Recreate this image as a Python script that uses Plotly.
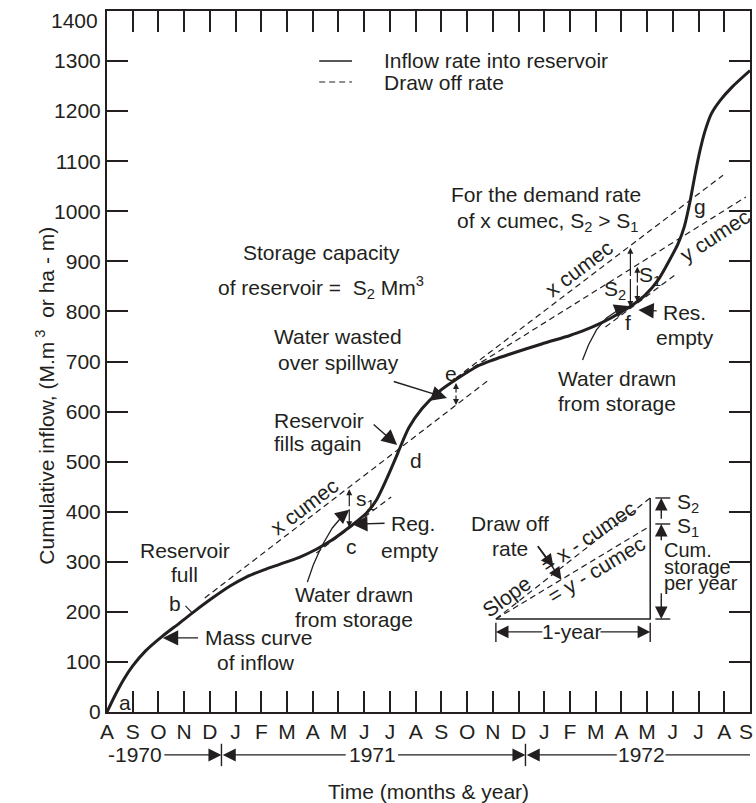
import plotly.graph_objects as go

INK = "#231f20"
FONT = "Liberation Sans, Arial, Helvetica, sans-serif"
FS = 21

# ---------------- data ----------------
month_labels = ["A", "S", "O", "N", "D", "J", "F", "M", "A", "M", "J", "J", "A",
                "S", "O", "N", "D", "J", "F", "M", "A", "M", "J", "J", "A", "S"]
month_index = list(range(len(month_labels)))          # 0 = Aug 1970
y_ticks = list(range(0, 1401, 100))
y_ticktext = [str(v) for v in y_ticks[:-1]] + [""]    # top label drawn separately
x_ticktext = month_labels[:-1] + [""]                 # last label drawn separately

# mass curve of inflow (cumulative inflow, M.m3)
mass_t = [0, 0.3, 0.65, 1.0, 1.5, 2.17, 2.83, 3.4, 4.11, 4.8, 5.43, 6.1, 6.71, 7.48,
          8.14, 8.76, 9.42, 10.08, 10.47, 10.85, 11.24, 11.36, 11.74, 12.25, 12.91,
          13.57, 14.46, 15.0, 15.62, 16.90, 18.0, 18.45, 19.22, 20.0, 20.54, 20.93,
          21.43, 21.94, 22.2, 22.45, 22.67, 22.87, 23.05, 23.25, 23.5, 23.85, 24.3, 25.0]
mass_v = [0, 32, 65, 92, 122, 152, 178, 201, 228, 252, 270, 284, 295, 309,
          325, 344, 369, 397, 423, 463, 509, 524, 568, 606, 640,
          664, 692, 703, 714, 735, 752, 760, 777, 799, 817, 833,
          863, 909, 935, 970, 1020, 1075, 1120, 1160, 1195, 1222, 1248, 1281]

# draw-off (demand) lines
draw_b_t, draw_b_v = [3.80, 14.84], [227.7, 663.0]      # x cumec, tangent at b
draw_c_t, draw_c_v = [8.14, 11.05], [317.6, 429.4]      # x cumec, tangent at c
draw_ex_t, draw_ex_v = [13.57, 23.95], [667.0, 1072.0]  # x cumec from e
draw_ey_t, draw_ey_v = [13.57, 24.84], [667.0, 1028.5]  # y cumec from e
draw_f_t, draw_f_v = [19.38, 22.09], [769.0, 873.0]     # x cumec, tangent at f

# inset triangle (slope = draw-off rate)
tri_t0, tri_t1 = 15.12, 21.12
tri_v0, tri_vx, tri_vy = 185.7, 427.4, 371.5

# curved "water drawn from storage" leaders
lead1_t = [7.79, 8.02, 8.33, 8.76, 9.22]
lead1_v = [259.6, 293.6, 329.5, 367.5, 395.4]
lead2_t = [18.49, 18.72, 19.03, 19.42, 19.88]
lead2_v = [703, 733, 763, 787, 803]

fig = go.Figure()

dash_style = dict(color=INK, width=1.2, dash="6px,4px")

def dline(t, v, style=dash_style):
    fig.add_trace(go.Scatter(x=t, y=v, mode="lines", line=style,
                             hoverinfo="skip", showlegend=False))

dline(draw_b_t, draw_b_v)
dline(draw_c_t, draw_c_v)
dline(draw_ex_t, draw_ex_v)
dline(draw_ey_t, draw_ey_v)
dline(draw_f_t, draw_f_v)
dline([tri_t0, tri_t1], [tri_v0, tri_vx])
dline([tri_t0, tri_t1], [tri_v0, tri_vy])
solid_thin = dict(color=INK, width=1.5)
dline([tri_t0, tri_t1, tri_t1], [tri_v0, tri_v0, tri_vx], solid_thin)
dline(lead1_t, lead1_v, dict(color=INK, width=1.3))
dline(lead2_t, lead2_v, dict(color=INK, width=1.3))

# mass curve
fig.add_trace(go.Scatter(x=mass_t, y=mass_v, mode="lines",
                         line=dict(color=INK, width=3, shape="spline", smoothing=0.7),
                         hoverinfo="skip", showlegend=False))

# small tick mark at b
dline([3.05, 3.35], [212, 196], dict(color=INK, width=1.2))

ann = []

def txt(x, y, s, size=FS, xanchor="center", angle=0, xref="x", yref="y"):
    ann.append(dict(x=x, y=y, xref=xref, yref=yref, text=s, showarrow=False,
                    xanchor=xanchor, yanchor="middle", textangle=angle,
                    font=dict(size=size, color=INK, family=FONT)))

def arrow(x0, y0, x1, y1, head=2, size=2.2, width=1.4, side="end"):
    ann.append(dict(x=x1, y=y1, ax=x0, ay=y0, xref="x", yref="y", axref="x", ayref="y",
                    text="", showarrow=True, arrowhead=head, arrowsize=size,
                    arrowwidth=width, arrowside=side, arrowcolor=INK,
                    startarrowhead=head, startarrowsize=size))

# end tick labels (kept inside the page as in the original)
txt(-0.011, 0.9864, y_ticks[-1], xanchor="right", xref="paper", yref="paper")
txt(0.994, -0.0285, month_labels[-1], xref="paper", yref="paper")

# point labels
txt(0.70, 18, "a")
txt(2.64, 216, "b")
txt(9.50, 330, "c")
txt(12.02, 503, "d")
txt(13.37, 677, "e")
txt(20.27, 777, "f")
txt(23.06, 1009, "g")

# left-hand notes
txt(3.02, 323, "Reservoir")
txt(3.02, 274, "full")
txt(3.72, 148, "Mass curve", xanchor="left")
txt(5.81, 98, "of inflow")
arrow(3.60, 148, 2.17, 148)

txt(7.67, 411, "x cumec", angle=-37)
txt(10.05, 423, "s<sub>1</sub>")
arrow(9.42, 408, 9.42, 445, size=1.0, width=1.2)
arrow(9.42, 408, 9.42, 369, size=1.0, width=1.2)

txt(9.61, 234, "Water drawn")
txt(9.61, 184, "from storage")
arrow(9.22, 395.4, 9.42, 404, size=2.0)

txt(10.97, 377, "Reg.", xanchor="left")
txt(11.78, 323, "empty")
arrow(10.85, 377, 9.53, 375)

txt(6.43, 583, "Reservoir", xanchor="left")
txt(6.43, 537, "fills again", xanchor="left")
arrow(10.31, 577, 11.28, 533)

txt(8.99, 749, "Water wasted")
txt(8.99, 699, "over spillway")
arrow(11.09, 661, 13.22, 627)
arrow(13.57, 635, 13.57, 657, size=1.0, width=1.2)
arrow(13.57, 635, 13.57, 613, size=1.0, width=1.2)

txt(8.33, 917, "Storage capacity")
txt(8.33, 847, "of reservoir =  S<sub>2</sub> Mm<sup>3</sup>")

# upper right notes
txt(17.05, 1033, "For the demand rate")
txt(17.13, 979, "of x cumec, S<sub>2</sub> &gt; S<sub>1</sub>")
txt(18.35, 885, "x cumec", angle=-37)
txt(23.64, 951, "y cumec", angle=-33)
txt(19.77, 843, "S<sub>2</sub>")
txt(21.12, 871, "S<sub>1</sub>")
arrow(20.35, 868, 20.35, 927, size=1.0, width=1.2)
arrow(20.35, 868, 20.35, 809, size=1.0, width=1.2)
arrow(20.62, 855, 20.62, 889, size=1.0, width=1.2)
arrow(20.62, 855, 20.62, 819, size=1.0, width=1.2)
txt(21.55, 797, "Res.", xanchor="left")
txt(22.48, 747, "empty")
arrow(21.43, 801, 20.66, 803)
txt(19.81, 667, "Water drawn")
txt(19.81, 617, "from storage")
arrow(19.88, 803, 20.27, 811, size=2.0)

# inset triangle notes
txt(15.66, 377, "Draw off")
txt(15.66, 327, "rate")
arrow(16.71, 334, 17.36, 290, size=1.8)
arrow(16.71, 334, 17.67, 264, size=1.8)
txt(15.54, 230, "Slope", angle=-36)
txt(18.72, 350, "= x - cumec", angle=-34)
txt(19.03, 284, "= y - cumec", angle=-31)
txt(22.60, 417, "S<sub>2</sub>")
txt(22.60, 369, "S<sub>1</sub>")
txt(21.59, 323, "Cum.", xanchor="left", size=20)
txt(21.59, 290, "storage", xanchor="left", size=20)
txt(21.59, 257, "per year", xanchor="left", size=20)
arrow(21.55, 383, 21.55, 427.4, size=1.8)
arrow(21.55, 340, 21.55, 375.5, size=1.8)
arrow(21.55, 240, 21.55, 185.7, size=1.8)
txt(18.06, 160, "1-year")
arrow(16.98, 160, 15.12, 160, size=1.8)
arrow(19.13, 160, 21.12, 160, size=1.8)

shapes = []
def seg(x0, y0, x1, y1, w=1.4, dash=None, xref="x", yref="y"):
    d = dict(type="line", x0=x0, y0=y0, x1=x1, y1=y1, xref=xref, yref=yref,
             line=dict(color=INK, width=w))
    if dash:
        d["line"]["dash"] = dash
    shapes.append(d)

seg(21.32, 427.4, 21.90, 427.4)
seg(21.32, 375.5, 21.90, 375.5)
seg(21.32, 185.7, 21.90, 185.7)
seg(15.12, 140, 15.12, 178)
seg(21.12, 140, 21.12, 178)

# legend (drawn by hand, paper coordinates)
seg(0.330, 0.9287, 0.381, 0.9287, w=1.6, xref="paper", yref="paper")
seg(0.330, 0.8987, 0.381, 0.8987, w=1.2, dash="6px,4px", xref="paper", yref="paper")
txt(0.428, 0.9287, "Inflow rate into reservoir", xanchor="left", xref="paper", yref="paper")
txt(0.428, 0.8987, "Draw off rate", xanchor="left", xref="paper", yref="paper")

# year row below the month labels
n_months = month_index[-1]
def mp(m):
    return m / n_months
yr_y = -0.0613
div1, div2 = 4.45, 16.27
seg(mp(div1), yr_y - 0.016, mp(div1), yr_y + 0.016, w=1.4, xref="paper", yref="paper")
seg(mp(div2), yr_y - 0.016, mp(div2), yr_y + 0.016, w=1.4, xref="paper", yref="paper")
txt(mp(1.09), yr_y, "-1970", xref="paper", yref="paper")
txt(mp(10.31), yr_y, "1971", xref="paper", yref="paper")
txt(mp(20.78), yr_y, "1972", xref="paper", yref="paper")
seg(mp(21.72), yr_y, 1.0, yr_y, w=1.2, xref="paper", yref="paper")

def yarrow(m_tail, m_head):
    ann.append(dict(x=m_head, y=yr_y, ax=m_tail, ay=0, xref="x", yref="paper",
                    axref="x", ayref="pixel", text="", showarrow=True, arrowhead=2,
                    arrowsize=2.0, arrowwidth=1.3, arrowcolor=INK))

yarrow(2.17, div1)
yarrow(9.34, div1 + 0.05)
yarrow(11.26, div2)
yarrow(19.88, div2 + 0.05)

txt(0.5, -0.114, "Time (months &amp; year)", xref="paper", yref="paper")
ann.append(dict(x=-0.119, y=0.452, xref="paper", yref="paper",
                text="Cumulative inflow, (M.m<sup> 3</sup>  or ha - m)", showarrow=False,
                textangle=-90, font=dict(size=FS, color=INK, family=FONT)))

fig.update_layout(
    width=756, height=803,
    margin=dict(l=107, r=4, t=11, b=91),
    paper_bgcolor="white", plot_bgcolor="white",
    font=dict(family=FONT, size=FS, color=INK),
    showlegend=False,
    annotations=ann, shapes=shapes,
    xaxis=dict(range=[0, n_months], tickmode="array", tickvals=month_index,
               ticktext=x_ticktext, ticks="inside", ticklen=21, tickwidth=1.6,
               tickcolor=INK, showline=True, linewidth=2, linecolor=INK,
               mirror="ticks", showgrid=False, zeroline=False, fixedrange=True),
    yaxis=dict(range=[0, 1400], tickmode="array", tickvals=y_ticks,
               ticktext=y_ticktext, ticks="inside",
               ticklen=21, tickwidth=1.6, tickcolor=INK, showline=True, linewidth=2,
               linecolor=INK, mirror="ticks", showgrid=False, zeroline=False,
               fixedrange=True),
)

fig.write_html("out.html", config={"displayModeBar": False},
               post_script="document.body.style.margin='0px';document.body.style.padding='0px';")
